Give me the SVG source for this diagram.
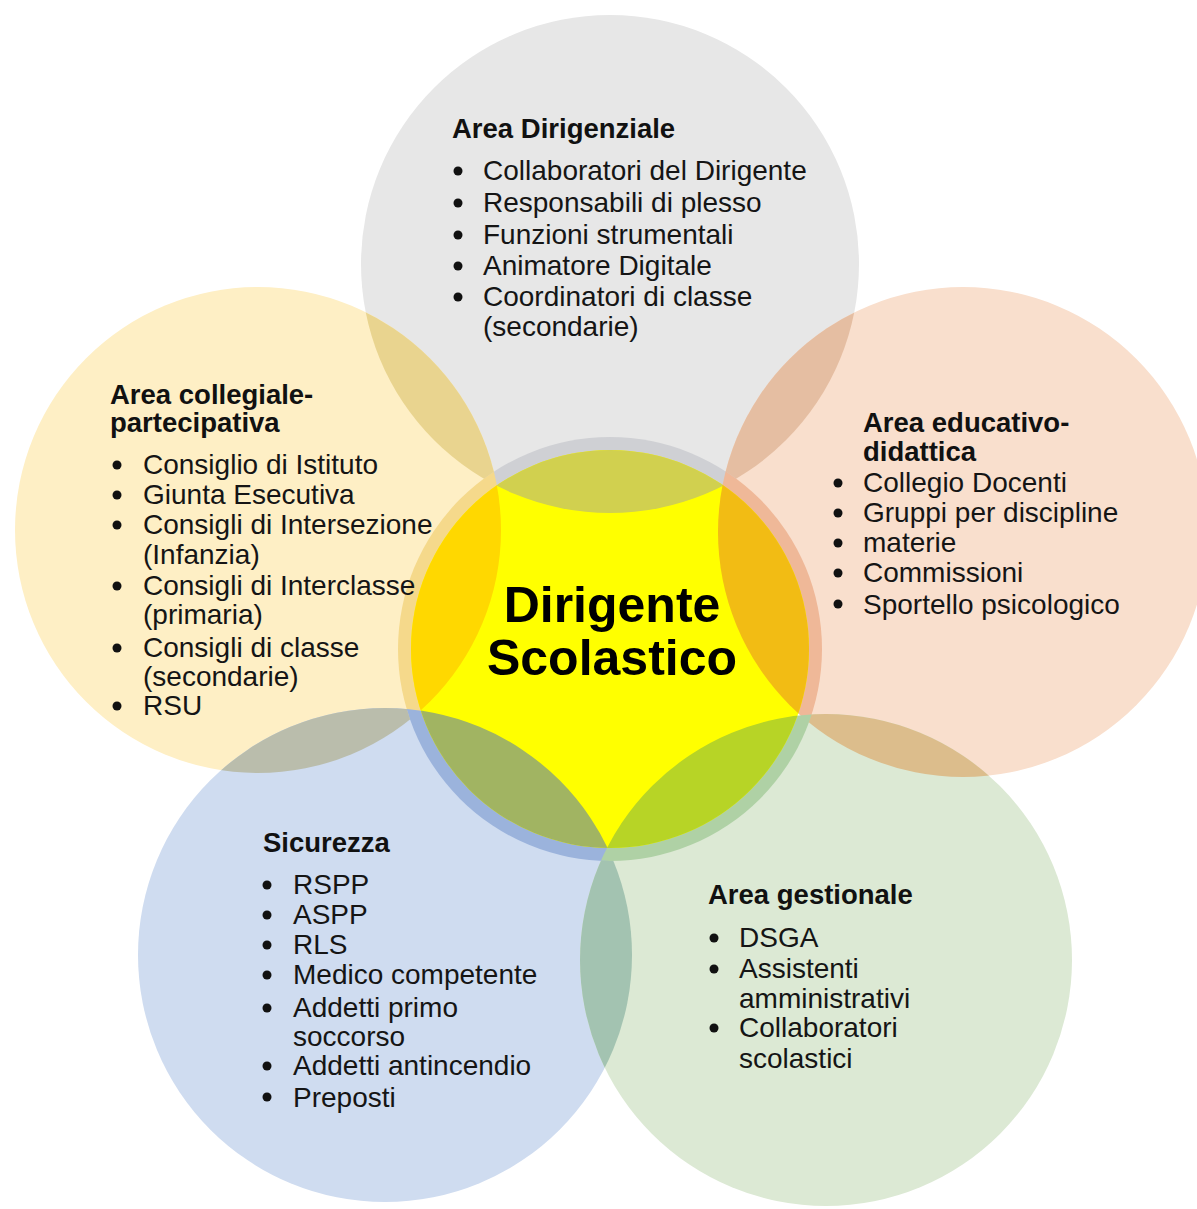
<svg xmlns="http://www.w3.org/2000/svg" width="1197" height="1209" viewBox="0 0 1197 1209">
  <style>
    .t { font-family: "Liberation Sans", Arial, sans-serif; font-size: 28px; fill: #151515; }
    .h { font-family: "Liberation Sans", Arial, sans-serif; font-size: 27.5px; font-weight: bold; fill: #111; }
    .core { font-family: "Liberation Sans", Arial, sans-serif; font-size: 50px; font-weight: bold; fill: #000; text-anchor: middle; }
    .b { fill: #111; }
  </style>
  <defs>
    <clipPath id="clipDir"><circle cx="610" cy="264" r="249"/></clipPath>
    <clipPath id="clipCol"><circle cx="258" cy="530" r="243"/></clipPath>
    <clipPath id="clipEdu"><circle cx="963" cy="532" r="245"/></clipPath>
    <clipPath id="clipSic"><circle cx="385" cy="955" r="247"/></clipPath>
    <clipPath id="clipGes"><circle cx="826" cy="960" r="246"/></clipPath>
    <clipPath id="clipCore"><circle cx="610" cy="649" r="199"/></clipPath>
  </defs>

  <rect width="1197" height="1209" fill="#ffffff"/>

  <!-- outer area discs -->
  <g id="discs">
    <circle cx="610" cy="264" r="249" fill="#e7e7e7"/>
    <circle cx="258" cy="530" r="243" fill="#feefc5"/>
    <circle cx="963" cy="532" r="245" fill="#f9dfcd"/>
    <circle cx="385" cy="955" r="247" fill="#cfdcf0"/>
    <circle cx="826" cy="960" r="246" fill="#dce9d4"/>
  </g>

  <!-- overlaps between neighbouring areas -->
  <g id="overlaps">
    <g clip-path="url(#clipDir)"><circle cx="258" cy="530" r="243" fill="#e9d48f"/></g>
    <g clip-path="url(#clipDir)"><circle cx="963" cy="532" r="245" fill="#e5bea2"/></g>
    <g clip-path="url(#clipCol)"><circle cx="385" cy="955" r="247" fill="#babdac"/></g>
    <g clip-path="url(#clipEdu)"><circle cx="826" cy="960" r="246" fill="#dcbd8c"/></g>
    <g clip-path="url(#clipSic)"><circle cx="826" cy="960" r="246" fill="#a3c3b1"/></g>
  </g>

  <!-- halo ring around the central disc, tinted by each area -->
  <g id="halo">
    <g clip-path="url(#clipDir)"><circle cx="610" cy="649" r="212" fill="#cfd0d4"/></g>
    <g clip-path="url(#clipCol)"><circle cx="610" cy="649" r="212" fill="#f5d98b"/></g>
    <g clip-path="url(#clipEdu)"><circle cx="610" cy="649" r="212" fill="#efb898"/></g>
    <g clip-path="url(#clipSic)"><circle cx="610" cy="649" r="212" fill="#9bb3dc"/></g>
    <g clip-path="url(#clipGes)"><circle cx="610" cy="649" r="212" fill="#afd1a5"/></g>
  </g>

  <g id="dirigente-scolastico">
    <circle cx="610" cy="649" r="199" fill="#ffff00"/>
    <g clip-path="url(#clipCore)">
      <circle cx="610" cy="264" r="249" fill="#d1d04f"/>
      <circle cx="258" cy="530" r="243" fill="#ffd800"/>
      <circle cx="963" cy="532" r="245" fill="#f2bc14"/>
      <circle cx="385" cy="955" r="247" fill="#a1b462"/>
      <circle cx="826" cy="960" r="246" fill="#b7d426"/>
    </g>
    <text class="core" x="612" y="622">Dirigente</text>
    <text class="core" x="612" y="675">Scolastico</text>
  </g>

  <g id="connectors"/>

  <g id="area-dirigenziale">
    <text class="h" x="452" y="138">Area Dirigenziale</text>
    <circle class="b" cx="458" cy="171" r="4.5"/>
    <circle class="b" cx="458" cy="203" r="4.5"/>
    <circle class="b" cx="458" cy="235" r="4.5"/>
    <circle class="b" cx="458" cy="266" r="4.5"/>
    <circle class="b" cx="458" cy="297" r="4.5"/>
    <text class="t" x="483" y="180">Collaboratori del Dirigente</text>
    <text class="t" x="483" y="212">Responsabili di plesso</text>
    <text class="t" x="483" y="244">Funzioni strumentali</text>
    <text class="t" x="483" y="275">Animatore Digitale</text>
    <text class="t" x="483" y="306">Coordinatori di classe</text>
    <text class="t" x="483" y="336">(secondarie)</text>
  </g>

  <g id="area-collegiale">
    <text class="h" x="110" y="404">Area collegiale-</text>
    <text class="h" x="110" y="432">partecipativa</text>
    <circle class="b" cx="117" cy="465" r="4.5"/>
    <circle class="b" cx="117" cy="495" r="4.5"/>
    <circle class="b" cx="117" cy="525" r="4.5"/>
    <circle class="b" cx="117" cy="586" r="4.5"/>
    <circle class="b" cx="117" cy="648" r="4.5"/>
    <circle class="b" cx="117" cy="706" r="4.5"/>
    <text class="t" x="143" y="474">Consiglio di Istituto</text>
    <text class="t" x="143" y="504">Giunta Esecutiva</text>
    <text class="t" x="143" y="534">Consigli di Intersezione</text>
    <text class="t" x="143" y="564">(Infanzia)</text>
    <text class="t" x="143" y="595">Consigli di Interclasse</text>
    <text class="t" x="143" y="624">(primaria)</text>
    <text class="t" x="143" y="657">Consigli di classe</text>
    <text class="t" x="143" y="686">(secondarie)</text>
    <text class="t" x="143" y="715">RSU</text>
  </g>

  <g id="area-educativo">
    <text class="h" x="863" y="432">Area educativo-</text>
    <text class="h" x="863" y="461">didattica</text>
    <circle class="b" cx="838" cy="483" r="4.5"/>
    <circle class="b" cx="838" cy="513" r="4.5"/>
    <circle class="b" cx="838" cy="543" r="4.5"/>
    <circle class="b" cx="838" cy="573" r="4.5"/>
    <circle class="b" cx="838" cy="604" r="4.5"/>
    <text class="t" x="863" y="492">Collegio Docenti</text>
    <text class="t" x="863" y="522">Gruppi per discipline</text>
    <text class="t" x="863" y="552">materie</text>
    <text class="t" x="863" y="582">Commissioni</text>
    <text class="t" x="863" y="614">Sportello psicologico</text>
  </g>

  <g id="sicurezza">
    <text class="h" x="263" y="852">Sicurezza</text>
    <circle class="b" cx="267" cy="885" r="4.5"/>
    <circle class="b" cx="267" cy="915" r="4.5"/>
    <circle class="b" cx="267" cy="945" r="4.5"/>
    <circle class="b" cx="267" cy="975" r="4.5"/>
    <circle class="b" cx="267" cy="1008" r="4.5"/>
    <circle class="b" cx="267" cy="1066" r="4.5"/>
    <circle class="b" cx="267" cy="1097" r="4.5"/>
    <text class="t" x="293" y="894">RSPP</text>
    <text class="t" x="293" y="924">ASPP</text>
    <text class="t" x="293" y="954">RLS</text>
    <text class="t" x="293" y="984">Medico competente</text>
    <text class="t" x="293" y="1017">Addetti primo</text>
    <text class="t" x="293" y="1046">soccorso</text>
    <text class="t" x="293" y="1075">Addetti antincendio</text>
    <text class="t" x="293" y="1107">Preposti</text>
  </g>

  <g id="area-gestionale">
    <text class="h" x="708" y="904">Area gestionale</text>
    <circle class="b" cx="714" cy="938" r="4.5"/>
    <circle class="b" cx="714" cy="969" r="4.5"/>
    <circle class="b" cx="714" cy="1028" r="4.5"/>
    <text class="t" x="739" y="947">DSGA</text>
    <text class="t" x="739" y="978">Assistenti</text>
    <text class="t" x="739" y="1008">amministrativi</text>
    <text class="t" x="739" y="1037">Collaboratori</text>
    <text class="t" x="739" y="1068">scolastici</text>
  </g>
</svg>
